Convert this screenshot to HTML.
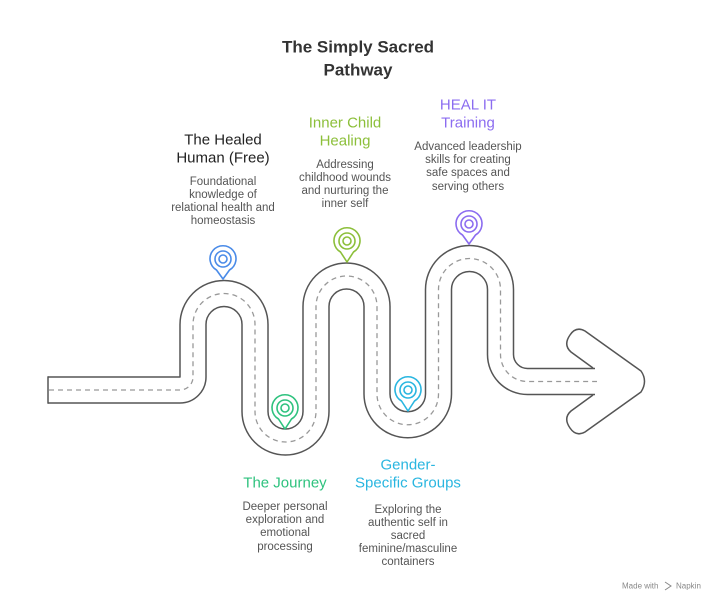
<!DOCTYPE html>
<html><head><meta charset="utf-8"><style>
html,body{margin:0;padding:0;background:#fff;}
svg{display:block;font-family:"Liberation Sans",sans-serif;}
.t{font-size:15px;text-anchor:middle;dominant-baseline:central;}
.d{font-size:11.5px;fill:#555;text-anchor:middle;dominant-baseline:central;}
</style></head><body>
<svg width="720" height="606" viewBox="0 0 720 606" xmlns="http://www.w3.org/2000/svg">
<text x="358" y="47" class="t" style="font-size:17px;font-weight:bold;fill:#333">The Simply Sacred</text>
<text x="358" y="70" class="t" style="font-size:17px;font-weight:bold;fill:#333">Pathway</text>

<path d="M593 368 L571 352 Q563 345 570 335 Q576 326 585 331 L641 371 Q648 381 641 392 L585 432 Q576 437 570 428 Q563 418 571 411 L593 395" fill="#fff" stroke="#555" stroke-width="1.5" stroke-linejoin="round"/>

<g fill="none">
<path d="M48 390 H180 A13 13 0 0 0 193 377 V324.5 A31 31 0 0 1 255 324.5 V411.5 A30.5 30.5 0 0 0 316 411.5 V306.5 A30.5 30.5 0 0 1 377 306.5 V394 A30.75 30.75 0 0 0 438.5 394 V289.5 A31 31 0 0 1 500.5 289.5 V354.5 A27 27 0 0 0 527.5 381.5 H595" stroke="#555" stroke-width="27.5"/>
<path d="M48 390 H180 A13 13 0 0 0 193 377 V324.5 A31 31 0 0 1 255 324.5 V411.5 A30.5 30.5 0 0 0 316 411.5 V306.5 A30.5 30.5 0 0 1 377 306.5 V394 A30.75 30.75 0 0 0 438.5 394 V289.5 A31 31 0 0 1 500.5 289.5 V354.5 A27 27 0 0 0 527.5 381.5 H596" stroke="#fff" stroke-width="24.5"/>
<path d="M49 390 H180 A13 13 0 0 0 193 377 V324.5 A31 31 0 0 1 255 324.5 V411.5 A30.5 30.5 0 0 0 316 411.5 V306.5 A30.5 30.5 0 0 1 377 306.5 V394 A30.75 30.75 0 0 0 438.5 394 V289.5 A31 31 0 0 1 500.5 289.5 V354.5 A27 27 0 0 0 527.5 381.5 H597" stroke="#999" stroke-width="1.3" stroke-dasharray="5 4"/>
<line x1="48" y1="376.3" x2="48" y2="403.7" stroke="#555" stroke-width="1.5"/>
</g>

<g fill="#fff" stroke-width="1.6">
<g stroke="#4a8be8"><path d="M216.5 270 A13 13 0 1 1 229.5 270 L223 279 Z" stroke-linejoin="round"/><circle cx="223" cy="259" r="8" fill="none"/><circle cx="223" cy="259" r="4" fill="none"/></g>
<g stroke="#2ec27e"><path d="M278.5 419 A13 13 0 1 1 291.5 419 L285 429 Z" stroke-linejoin="round"/><circle cx="285" cy="408" r="8" fill="none"/><circle cx="285" cy="408" r="4" fill="none"/></g>
<g stroke="#8cbf3a"><path d="M340.5 252 A13 13 0 1 1 353.5 252 L347 262 Z" stroke-linejoin="round"/><circle cx="347" cy="241" r="8" fill="none"/><circle cx="347" cy="241" r="4" fill="none"/></g>
<g stroke="#29b6e0"><path d="M401.5 401 A13 13 0 1 1 414.5 401 L408 411 Z" stroke-linejoin="round"/><circle cx="408" cy="390" r="8" fill="none"/><circle cx="408" cy="390" r="4" fill="none"/></g>
<g stroke="#8b6cf0"><path d="M462.5 235 A13 13 0 1 1 475.5 235 L469 244 Z" stroke-linejoin="round"/><circle cx="469" cy="224" r="8" fill="none"/><circle cx="469" cy="224" r="4" fill="none"/></g>
</g>

<text x="223" y="140" class="t" fill="#222">The Healed</text>
<text x="223" y="158" class="t" fill="#222">Human (Free)</text>
<text x="223" y="182" class="d">Foundational</text>
<text x="223" y="195" class="d">knowledge of</text>
<text x="223" y="208" class="d">relational health and</text>
<text x="223" y="221" class="d">homeostasis</text>

<text x="345" y="123" class="t" fill="#8cbf3a">Inner Child</text>
<text x="345" y="141" class="t" fill="#8cbf3a">Healing</text>
<text x="345" y="165" class="d">Addressing</text>
<text x="345" y="178" class="d">childhood wounds</text>
<text x="345" y="191" class="d">and nurturing the</text>
<text x="345" y="204" class="d">inner self</text>

<text x="468" y="105" class="t" fill="#8b6cf0">HEAL IT</text>
<text x="468" y="123" class="t" fill="#8b6cf0">Training</text>
<text x="468" y="147" class="d">Advanced leadership</text>
<text x="468" y="160" class="d">skills for creating</text>
<text x="468" y="173" class="d">safe spaces and</text>
<text x="468" y="187" class="d">serving others</text>

<text x="285" y="483" class="t" fill="#2ec27e">The Journey</text>
<text x="285" y="507" class="d">Deeper personal</text>
<text x="285" y="520" class="d">exploration and</text>
<text x="285" y="533" class="d">emotional</text>
<text x="285" y="547" class="d">processing</text>

<text x="408" y="465" class="t" fill="#29b6e0">Gender-</text>
<text x="408" y="483" class="t" fill="#29b6e0">Specific Groups</text>
<text x="408" y="510" class="d">Exploring the</text>
<text x="408" y="523" class="d">authentic self in</text>
<text x="408" y="536" class="d">sacred</text>
<text x="408" y="549" class="d">feminine/masculine</text>
<text x="408" y="562" class="d">containers</text>

<text x="622" y="586" style="font-size:8px;fill:#888;dominant-baseline:central">Made with</text>
<text x="676" y="586" style="font-size:8px;fill:#888;dominant-baseline:central">Napkin</text>
<path d="M665 582 L671 586 L665 590" fill="none" stroke="#888" stroke-width="1"/>
</svg>
</body></html>
